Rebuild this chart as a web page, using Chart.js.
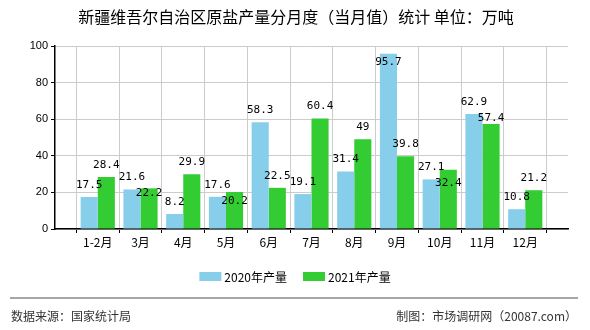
<!DOCTYPE html>
<html>
<head>
<meta charset="utf-8">
<script src="https://cdn.jsdelivr.net/npm/chart.js@4"></script>
<style>
  html, body { margin: 0; padding: 0; background: #fff; }
  #wrap { width: 590px; height: 330px; position: relative; }
</style>
</head>
<body>
<div id="wrap"><canvas id="myChart" width="590" height="330"></canvas></div>
<script>
// 月份 (首尾留空位)
var months = ['', '1-2月', '3月', '4月', '5月', '6月', '7月', '8月', '9月', '10月', '11月', '12月', ''];
var output2020 = [null, 17.5, 21.6, 8.2, 17.6, 58.3, 19.1, 31.4, 95.7, 27.1, 62.9, 10.8, null];
var output2021 = [null, 28.4, 22.2, 29.9, 20.2, 22.5, 60.4, 49, 39.8, 32.4, 57.4, 21.2, null];
var seriesNames = ['2020年产量', '2021年产量'];
var yTicks = [0, 20, 40, 60, 80, 100];

var titleText = '新疆维吾尔自治区原盐产量分月度（当月值）统计 单位：万吨';
var sourceText = '数据来源：国家统计局';
var makerText = '制图：市场调研网（20087.com）';

var cjk = '"Noto Sans CJK SC", "Liberation Sans", sans-serif';

// 画标题、数值、图例和底部说明
var decoPlugin = {
    id: 'deco',
    afterDatasetsDraw: function (chart) {
        var ctx = chart.ctx;
        var area = chart.chartArea;
        ctx.save();
        ctx.font = '11px "DejaVu Sans Mono", monospace';
        ctx.fillStyle = '#000';
        ctx.textAlign = 'center';
        ctx.textBaseline = 'middle';
        var m0 = chart.getDatasetMeta(0).data;
        var m1 = chart.getDatasetMeta(1).data;
        var d0 = chart.data.datasets[0].data;
        var d1 = chart.data.datasets[1].data;
        for (var j = 0; j < d0.length; j++) {
            if (d0[j] === null) continue;
            var t0 = String(d0[j]), t1 = String(d1[j]);
            var x0 = m0[j].x, x1 = m1[j].x;
            var y0 = Math.max(m0[j].y - 12, area.top + 16);
            var y1 = Math.max(m1[j].y - 12, area.top + 16);
            var w0 = ctx.measureText(t0).width, w1 = ctx.measureText(t1).width;
            // 两个数值重叠时把后一个往下挪
            var overlapX = Math.abs(x1 - x0) < (w0 + w1) / 2;
            if (overlapX && Math.abs(y1 - y0) < 12) {
                y1 = y0 + 16;
            }
            ctx.fillText(t0, x0, y0);
            ctx.fillText(t1, x1, y1);
        }
        ctx.restore();
    },
    afterDraw: function (chart) {
        var ctx = chart.ctx;
        ctx.save();
        // 标题
        ctx.font = '16px ' + cjk;
        ctx.fillStyle = '#000';
        ctx.textAlign = 'center';
        ctx.textBaseline = 'middle';
        ctx.fillText(titleText, 296, 17);

        // 图例
        ctx.font = '12px ' + cjk;
        ctx.textAlign = 'left';
        var items = chart.data.datasets.map(function (ds) {
            return { label: ds.label, color: ds.backgroundColor, w: ctx.measureText(ds.label).width };
        });
        var total = 0;
        items.forEach(function (it, i) { total += 25 + it.w + (i ? 16 : 0); });
        var x = 295 - total / 2;
        items.forEach(function (it, i) {
            if (i) x += 16;
            ctx.fillStyle = it.color;
            ctx.fillRect(x, 272, 22, 9);
            ctx.fillStyle = '#000';
            ctx.fillText(it.label, x + 25, 277);
            x += 25 + it.w;
        });

        // 底部分隔线
        ctx.strokeStyle = '#888';
        ctx.lineWidth = 1.5;
        ctx.beginPath();
        ctx.moveTo(10, 298);
        ctx.lineTo(578, 298);
        ctx.stroke();

        ctx.font = '12px ' + cjk;
        ctx.fillStyle = '#333';
        ctx.textAlign = 'left';
        ctx.fillText(sourceText, 11, 316);
        ctx.textAlign = 'right';
        ctx.fillText(makerText, 577, 316);
        ctx.restore();
    }
};

var ctx = document.getElementById('myChart').getContext('2d');
window.myChart = new Chart(ctx, {
    type: 'bar',
    data: {
        labels: months,
        datasets: [
            { label: seriesNames[0], data: output2020, backgroundColor: '#87ceeb' },
            { label: seriesNames[1], data: output2021, backgroundColor: '#33cc33' }
        ]
    },
    options: {
        responsive: false,
        animation: false,
        layout: { padding: { top: 46, right: 22, bottom: 0, left: 0 } },
        datasets: { bar: { categoryPercentage: 0.8, barPercentage: 1.0 } },
        plugins: {
            legend: { display: false },
            title: { display: false },
            tooltip: { enabled: false }
        },
        scales: {
            x: {
                offset: false,
                grid: { color: '#cccccc', tickColor: '#000', tickLength: 4, drawOnChartArea: true },
                border: { color: '#000', width: 1.5 },
                ticks: {
                    color: '#000',
                    font: { size: 12, family: cjk },
                    maxRotation: 0,
                    autoSkip: false,
                    padding: 2
                },
                afterFit: function (scale) { scale.height = 101; }
            },
            y: {
                min: 0,
                max: 100,
                afterBuildTicks: function (scale) {
                    scale.ticks = yTicks.map(function (v) { return { value: v }; });
                },
                grid: { color: '#cccccc', tickColor: '#000', tickLength: 4 },
                border: { color: '#000', width: 1.5 },
                ticks: {
                    color: '#000',
                    font: { size: 11, family: '"Liberation Sans", sans-serif' },
                    padding: 3
                },
                afterFit: function (scale) { scale.width = 55; }
            }
        }
    },
    plugins: [decoPlugin]
});
</script>
</body>
</html>
